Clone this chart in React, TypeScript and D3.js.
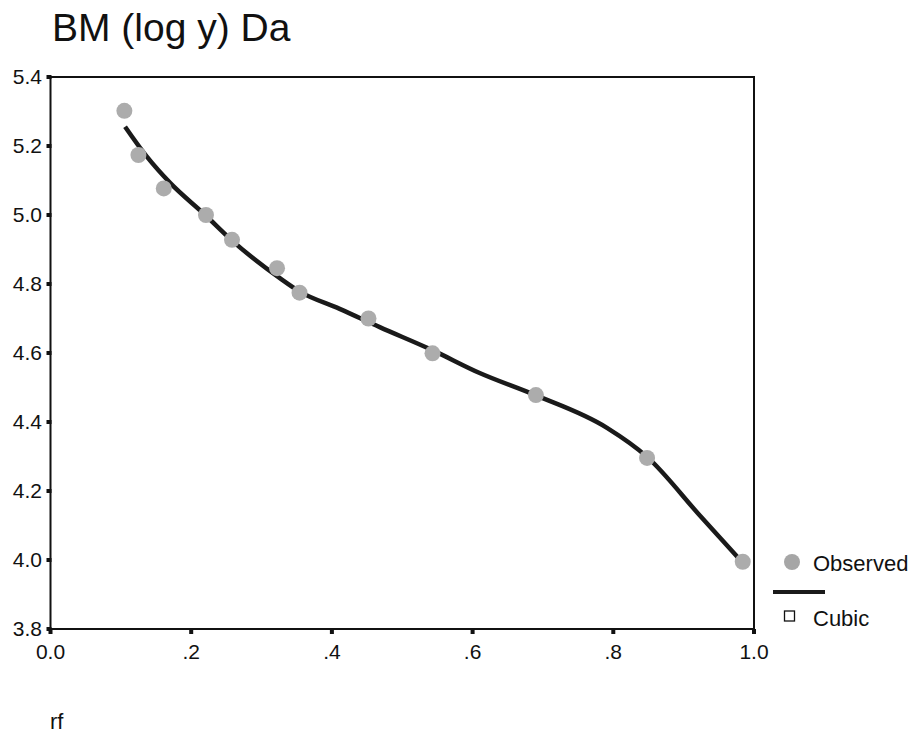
import React, { useEffect, useRef } from "react";
import * as d3 from "d3";

// observed points (rf, log y)
const obsX = [0.105, 0.125, 0.161, 0.221, 0.258, 0.322, 0.354, 0.452, 0.543, 0.69, 0.848, 0.984];
const obsY = [5.302, 5.174, 5.077, 5.0, 4.928, 4.846, 4.775, 4.7, 4.599, 4.478, 4.296, 3.995];

// cubic fit
const fitX = [0.106, 0.137, 0.17, 0.22, 0.257, 0.326, 0.355, 0.411, 0.468, 0.542, 0.61, 0.689, 0.791, 0.848, 0.923, 0.983];
const fitY = [5.256, 5.169, 5.093, 5.0, 4.928, 4.817, 4.777, 4.728, 4.675, 4.609, 4.542, 4.478, 4.383, 4.299, 4.129, 3.994];

const xTicks = [0, 0.2, 0.4, 0.6, 0.8, 1.0];
const xTickLabels = ["0.0", ".2", ".4", ".6", ".8", "1.0"];
const yTicks = [3.8, 4.0, 4.2, 4.4, 4.6, 4.8, 5.0, 5.2, 5.4];

const FONT = "'Liberation Sans', Arial, sans-serif";

function CurvePlot() {
  const svgRef = useRef<SVGSVGElement>(null);

  useEffect(() => {
    const svg = d3.select(svgRef.current);
    svg.selectAll("*").remove();

    const x = d3.scaleLinear().domain([0, 1]).range([50.5, 754]);
    const y = d3.scaleLinear().domain([3.8, 5.4]).range([629, 77]);

    // title
    svg
      .append("text")
      .attr("x", 52)
      .attr("y", 41)
      .attr("font-family", FONT)
      .attr("font-size", 39)
      .attr("fill", "#111")
      .text("BM (log y) Da");

    // frame
    svg
      .append("rect")
      .attr("x", x(0))
      .attr("y", y(5.4))
      .attr("width", x(1) - x(0))
      .attr("height", y(3.8) - y(5.4))
      .attr("fill", "none")
      .attr("stroke", "#111")
      .attr("stroke-width", 2);

    // y ticks
    const yg = svg.append("g");
    yg.selectAll("rect")
      .data(yTicks)
      .join("rect")
      .attr("x", x(0) - 4)
      .attr("y", (d) => y(d) - 2)
      .attr("width", 5)
      .attr("height", 4)
      .attr("fill", "#111");
    yg.selectAll("text")
      .data(yTicks)
      .join("text")
      .attr("x", 42)
      .attr("y", (d) => y(d) + 7)
      .attr("text-anchor", "end")
      .attr("font-family", FONT)
      .attr("font-size", 21)
      .attr("fill", "#111")
      .text((d) => d.toFixed(1));

    // x ticks
    const xg = svg.append("g");
    xg.selectAll("rect")
      .data(xTicks)
      .join("rect")
      .attr("x", (d) => x(d) - 2)
      .attr("y", y(3.8))
      .attr("width", 4)
      .attr("height", 5)
      .attr("fill", "#111");
    xg.selectAll("text")
      .data(xTicks)
      .join("text")
      .attr("x", (d) => x(d))
      .attr("y", 659)
      .attr("text-anchor", "middle")
      .attr("font-family", FONT)
      .attr("font-size", 21)
      .attr("fill", "#111")
      .text((d, i) => xTickLabels[i]);

    // axis title
    svg
      .append("text")
      .attr("x", 50)
      .attr("y", 729)
      .attr("font-family", FONT)
      .attr("font-size", 22)
      .attr("fill", "#111")
      .text("rf");

    // fitted cubic
    const line = d3
      .line<number>()
      .x((d, i) => x(fitX[i]))
      .y((d) => y(d))
      .curve(d3.curveMonotoneX);
    svg
      .append("path")
      .attr("d", line(fitY))
      .attr("fill", "none")
      .attr("stroke", "#1a1a1a")
      .attr("stroke-width", 4.5)
      .attr("stroke-linecap", "butt");

    // observed
    svg
      .append("g")
      .selectAll("circle")
      .data(obsY)
      .join("circle")
      .attr("cx", (d, i) => x(obsX[i]))
      .attr("cy", (d) => y(d))
      .attr("r", 8)
      .attr("fill", "#acacac");

    // legend
    const lg = svg.append("g").attr("font-family", FONT).attr("font-size", 22).attr("fill", "#111");
    lg.append("circle").attr("cx", 792).attr("cy", 562).attr("r", 8).attr("fill", "#a6a6a6");
    lg.append("text").attr("x", 813).attr("y", 571).text("Observed");
    lg.append("line")
      .attr("x1", 773)
      .attr("x2", 825)
      .attr("y1", 592)
      .attr("y2", 592)
      .attr("stroke", "#1a1a1a")
      .attr("stroke-width", 4);
    lg.append("rect")
      .attr("x", 784.5)
      .attr("y", 611)
      .attr("width", 10)
      .attr("height", 10)
      .attr("fill", "none")
      .attr("stroke", "#111")
      .attr("stroke-width", 1.3);
    lg.append("text").attr("x", 813).attr("y", 626).text("Cubic");
  }, []);

  return (
    <svg
      ref={svgRef}
      width={911}
      height={734}
      style={{ position: "absolute", left: 0, top: 0, background: "#fff" }}
    />
  );
}

export default function App() {
  return <CurvePlot />;
}
